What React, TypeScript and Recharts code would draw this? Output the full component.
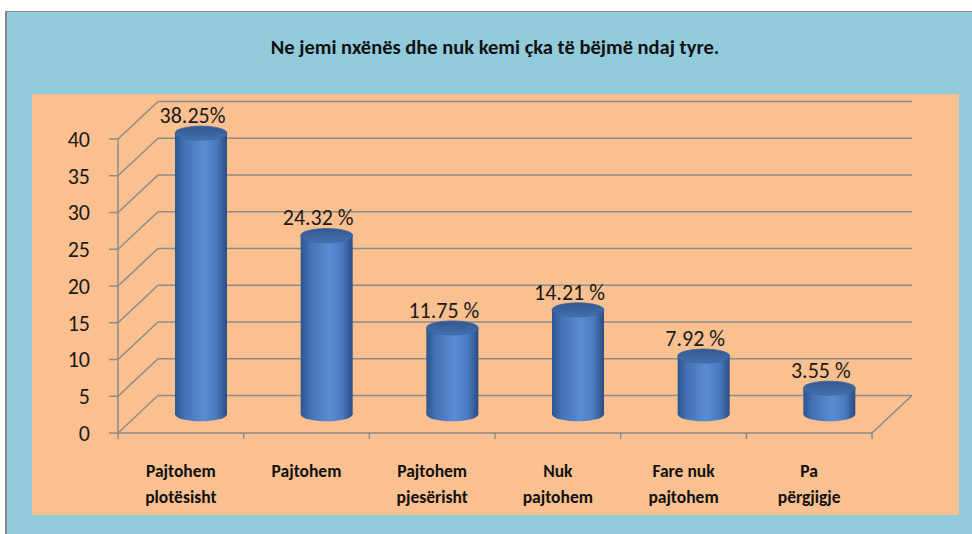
import React from 'react';
import { BarChart, Bar, XAxis, YAxis, CartesianGrid, LabelList } from 'recharts';

const title = 'Ne jemi nxënës dhe nuk kemi çka të bëjmë ndaj tyre.';
const categories = [
    'Pajtohem\nplotësisht',
    'Pajtohem',
    'Pajtohem\npjesërisht',
    'Nuk\npajtohem',
    'Fare nuk\npajtohem',
    'Pa\npërgjigje',
];
const values = [38.25, 24.32, 11.75, 14.21, 7.92, 3.55];
const valueLabels = ['38.25%', '24.32 %', '11.75 %', '14.21 %', '7.92 %', '3.55 %'];
const yTicks = [0, 5, 10, 15, 20, 25, 30, 35, 40];

const data = categories.map((name, i) => ({ name, value: values[i], label: valueLabels[i] }));

const W = 972;
const H = 534;
const MARGIN = { top: 139, right: 100, bottom: 41, left: 0 };
const Y_W = 118;
const X_H = 60;
// 3D depth offset from the front plane to the back wall
const DX = 40;
const DY = -37.5;
const GRID = '#8c8c8c';
const FONT = 'Carlito, "Liberation Sans", Arial, sans-serif';
const plotBottom = H - MARGIN.bottom - X_H;
const bandW = (W - MARGIN.left - Y_W - MARGIN.right) / categories.length;

// horizontal grid lines are drawn on the back wall, joined to the front axis by the side wall
const gridLine = (p: any) => {
    const { x1, y1, x2 } = p;
    const isFloor = Math.abs(y1 - plotBottom) < 1;
    return (
        <g key={p.key ?? `grid-${y1}`}>
            <line x1={x1} y1={y1} x2={x1 + DX} y2={y1 + DY} stroke={GRID} strokeWidth={1.5} />
            <line x1={x1 + DX} y1={y1 + DY} x2={x2 + DX} y2={y1 + DY} stroke={GRID} strokeWidth={1.5} />
            {isFloor && <line x1={x2} y1={y1} x2={x2 + DX} y2={y1 + DY} stroke={GRID} strokeWidth={1.5} />}
        </g>
    );
};

const Cylinder = (p: any) => {
    const { x, y, width, height } = p;
    if (width == null || height == null) return null;
    const rx = width / 2;
    const ry = 7;
    const cx = x + rx + DX / 2;
    const top = y + DY / 2;
    const bottom = y + height + DY / 2;
    const left = cx - rx;
    const right = cx + rx;
    const body = `M${left},${top} L${left},${bottom} A${rx},${ry} 0 0 0 ${right},${bottom} L${right},${top} Z`;
    return (
        <g>
            <path d={body} fill="url(#cylBody)" />
            <ellipse cx={cx} cy={top} rx={rx} ry={ry} fill="url(#cylTop)" stroke="#3a64a0" strokeWidth={0.8} />
        </g>
    );
};

const renderValueLabel = (p: any) => {
    const { x, y, width, value } = p;
    const cx = x + width / 2 + DX / 2 - 8.5;
    return (
        <text x={cx} y={y + DY / 2 - 10} textAnchor="middle" fontSize={22} fill="#1a1a1a" fontFamily={FONT}>
            {value}
        </text>
    );
};

const renderCategoryTick = (p: any) => {
    const { x, payload, index } = p;
    const lines = String(payload.value).split('\n');
    const last = index === categories.length - 1;
    return (
        <g>
            <line x1={x - bandW / 2} y1={plotBottom} x2={x - bandW / 2} y2={plotBottom + 6} stroke={GRID} strokeWidth={1.5} />
            {last && (
                <line x1={x + bandW / 2} y1={plotBottom} x2={x + bandW / 2} y2={plotBottom + 6} stroke={GRID} strokeWidth={1.5} />
            )}
            {lines.map((l, i) => (
                <text
                    key={i}
                    x={x}
                    y={plotBottom + 44 + i * 26}
                    textAnchor="middle"
                    fontSize={17.5}
                    fontWeight="bold"
                    fill="#111"
                    fontFamily={FONT}
                >
                    {l}
                </text>
            ))}
        </g>
    );
};

export default function App() {
    return (
        <div style={{ position: 'absolute', left: 0, top: 0, width: W, height: H, background: '#fff' }}>
            <div
                style={{
                    position: 'absolute',
                    left: 5,
                    top: 11,
                    width: W - 5,
                    height: H - 11,
                    background: '#92cbdc',
                    borderLeft: '2px solid #878787',
                    borderTop: '1px solid #878787',
                    boxSizing: 'border-box',
                }}
            />
            <div
                style={{
                    position: 'absolute',
                    left: 32,
                    top: 94,
                    width: 927,
                    height: 421,
                    background: '#fac090',
                }}
            />
            <div
                style={{
                    position: 'absolute',
                    left: 495,
                    top: 47,
                    transform: 'translate(-50%, -50%)',
                    whiteSpace: 'nowrap',
                    fontFamily: FONT,
                    fontWeight: 'bold',
                    fontSize: 20.5,
                    color: '#111',
                }}
            >
                {title}
            </div>
            <div style={{ position: 'absolute', left: 0, top: 0 }}>
                <BarChart width={W} height={H} data={data} margin={MARGIN}>
                    <defs>
                        <linearGradient id="cylBody" x1="0" y1="0" x2="1" y2="0">
                            <stop offset="0%" stopColor="#2d5690" />
                            <stop offset="18%" stopColor="#4271b4" />
                            <stop offset="55%" stopColor="#5b8dd5" />
                            <stop offset="80%" stopColor="#4a7ac0" />
                            <stop offset="100%" stopColor="#2a4c82" />
                        </linearGradient>
                        <linearGradient id="cylTop" x1="0" y1="0" x2="0" y2="1">
                            <stop offset="0%" stopColor="#32598f" />
                            <stop offset="100%" stopColor="#4370ae" />
                        </linearGradient>
                    </defs>
                    <CartesianGrid vertical={false} horizontal={gridLine} />
                    <XAxis
                        dataKey="name"
                        height={X_H}
                        interval={0}
                        tickLine={false}
                        axisLine={{ stroke: GRID, strokeWidth: 1.5 }}
                        tick={renderCategoryTick}
                    />
                    <YAxis
                        type="number"
                        domain={[0, 40]}
                        ticks={yTicks}
                        interval={0}
                        width={Y_W}
                        tickSize={9}
                        tickMargin={19}
                        axisLine={{ stroke: GRID, strokeWidth: 1.5 }}
                        tickLine={{ stroke: GRID, strokeWidth: 1.5 }}
                        tick={{ fontSize: 22, fill: '#1a1a1a', fontFamily: FONT }}
                    />
                    <Bar dataKey="value" barSize={52} shape={Cylinder} isAnimationActive={false}>
                        <LabelList dataKey="label" content={renderValueLabel} />
                    </Bar>
                </BarChart>
            </div>
        </div>
    );
}
